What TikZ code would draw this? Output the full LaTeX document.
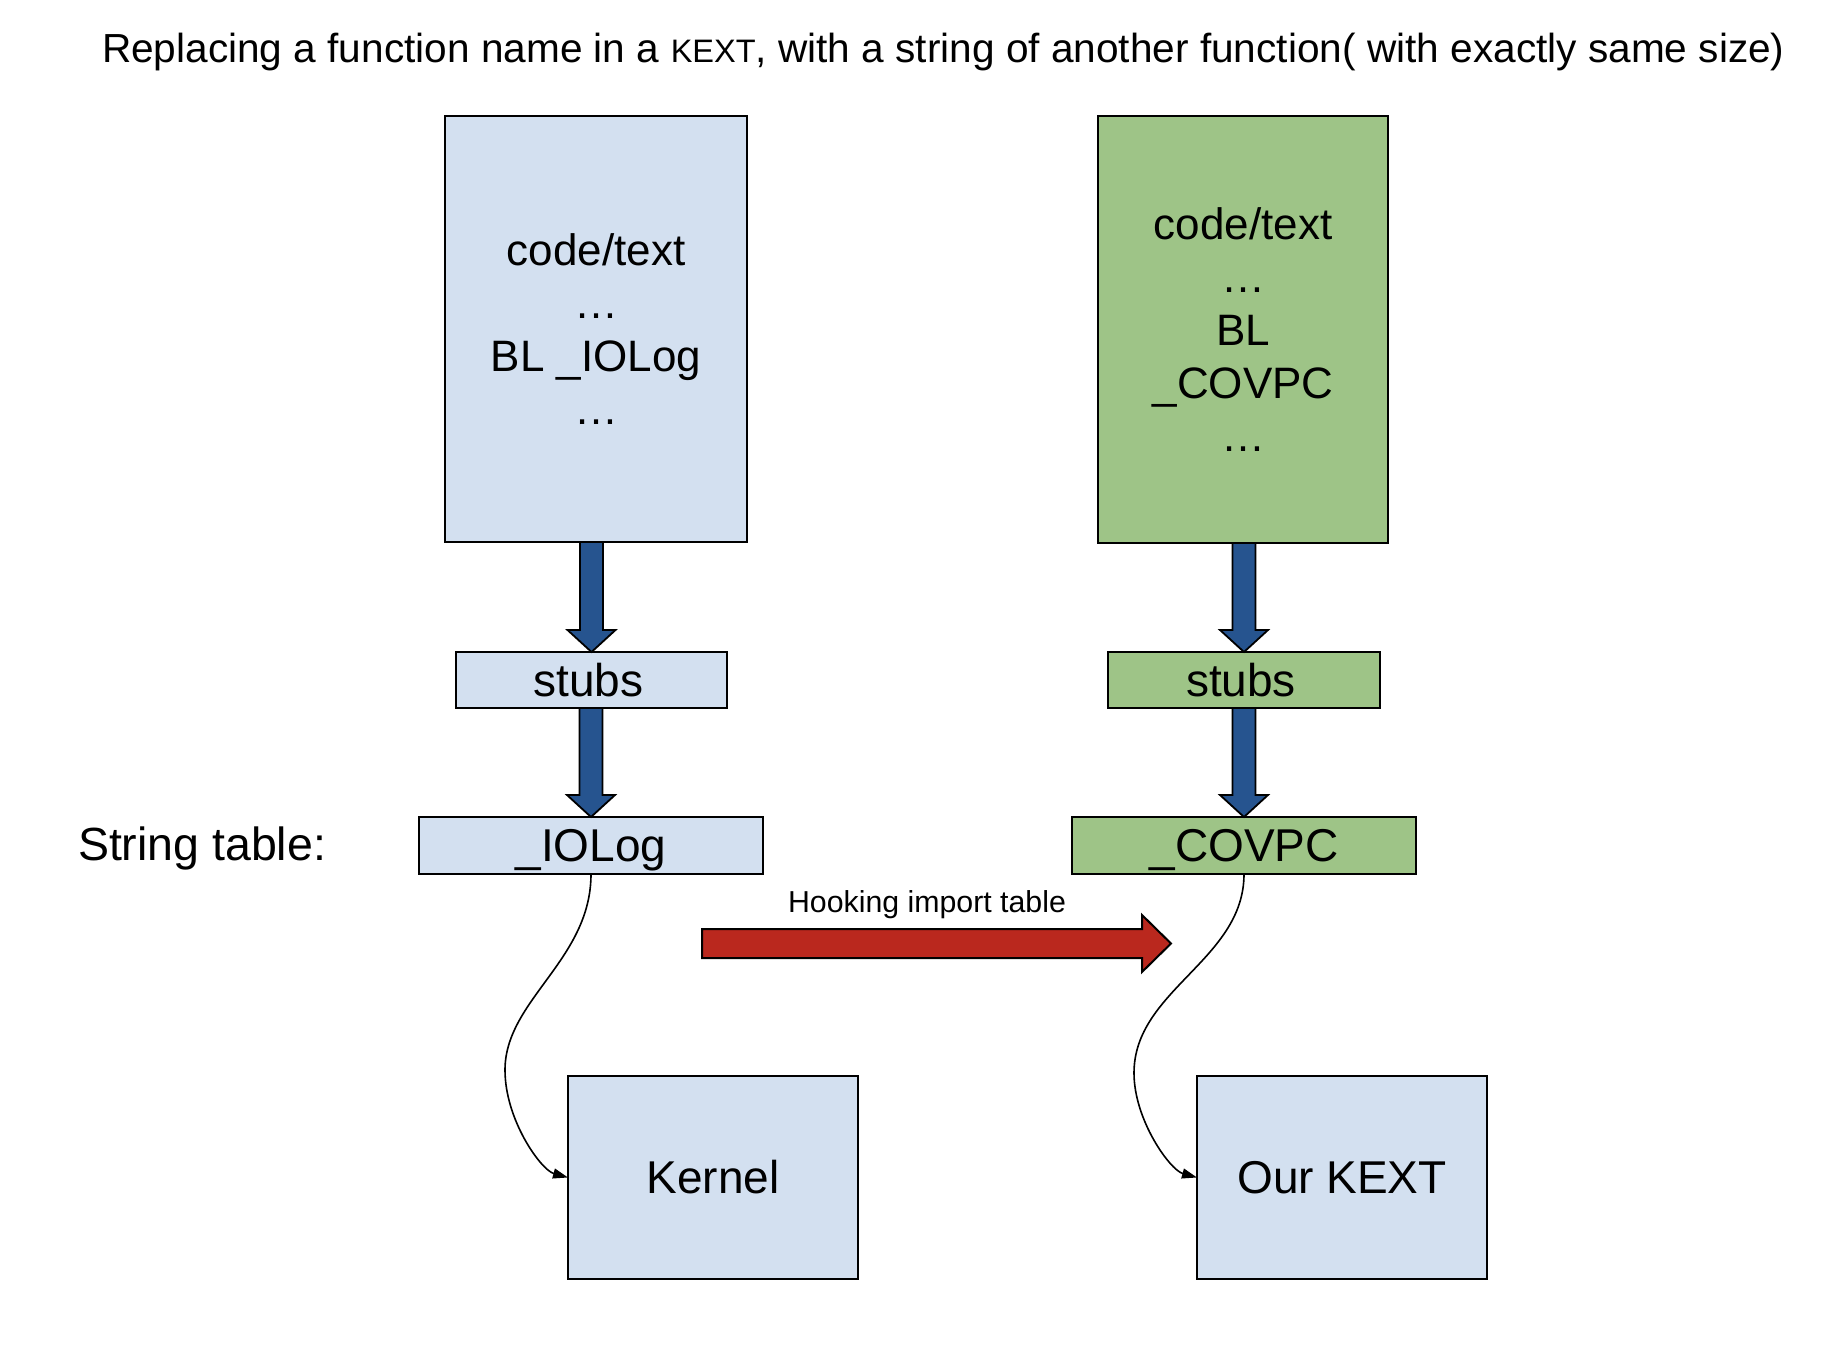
\documentclass[tikz,border=0pt]{standalone}
\usepackage{fontspec}
\setmainfont{Liberation Sans}
\usetikzlibrary{calc,arrows.meta}
\definecolor{boxblue}{HTML}{D3E0F0}
\definecolor{boxgreen}{HTML}{9EC487}
\definecolor{arrowblue}{HTML}{26548F}
\definecolor{arrowred}{HTML}{BA281E}
\newcommand\fatdown[2]{%
  \coordinate (fdtop) at (#1.south -| #2.north);
  \path[fatarrow] ($(fdtop)+(-11.5,0)$) -- ($(#2.north)+(-11.5,-22)$) -- ($(#2.north)+(-24,-22)$)
    -- (#2.north) -- ($(#2.north)+(24,-22)$) -- ($(#2.north)+(11.5,-22)$) -- ($(fdtop)+(11.5,0)$) -- cycle;
}
\begin{document}
\begin{tikzpicture}[x=1pt,y=-1pt,
  every node/.style={inner sep=0pt, outer sep=0pt},
  lbox/.style={draw=black, line width=2pt, fill=boxblue},
  gbox/.style={draw=black, line width=2pt, fill=boxgreen},
  bigtext/.style={align=center, font=\fontsize{44}{53}\selectfont},
  midtext/.style={font=\fontsize{46}{55}\selectfont},
  fatarrow/.style={draw=black, line width=1.8pt, fill=arrowblue, line join=miter},
  redarrow/.style={draw=black, line width=2pt, fill=arrowred, line join=miter},
  link/.style={draw=black, line width=1.6pt, -{Triangle[length=15pt,width=10pt]}},
]
\useasboundingbox (0,0) rectangle (1842,1356);
\fill[white] (0,0) rectangle (1842,1356);

% title
\node[anchor=base west, font=\fontsize{40.6}{48}\selectfont] (title) at (102,63)
  {Replacing a function name in a {\fontsize{32.5}{38}\selectfont KEXT}, with a string of another function( with exactly same size)};

% left column
\node[lbox, bigtext, minimum width=302pt, minimum height=426pt] (codeL) at (596,329)
  {code/text\\…\\BL \_IOLog\\…};
\node[lbox, midtext, minimum width=271pt, minimum height=56pt] (stubL) at (591.5,680) {\hspace*{-6pt}stubs};
\node[lbox, midtext, minimum width=344pt, minimum height=57pt, text depth=0pt] (strL) at (591,845.5) {\_IOLog};
\node[lbox, midtext, minimum width=290pt, minimum height=203pt] (kern) at (713,1177.5) {Kernel};

% right column
\node[gbox, bigtext, minimum width=290pt, minimum height=427pt] (codeR) at (1243,329.5)
  {code/text\\…\\BL\\\_COVPC\\…};
\node[gbox, midtext, minimum width=272pt, minimum height=56pt] (stubR) at (1244,680) {\hspace*{-6pt}stubs};
\node[gbox, midtext, minimum width=344pt, minimum height=57pt, text depth=0pt] (strR) at (1244,845.5) {\_COVPC};
\node[lbox, midtext, minimum width=290pt, minimum height=203pt] (kext) at (1342,1177.5) {Our KEXT};

% label
\node[anchor=base west, font=\fontsize{46.5}{55}\selectfont] (strtab) at (78,860) {String table:};

% fat blue arrows
\fatdown{codeL}{stubL}
\fatdown{stubL}{strL}
\fatdown{codeR}{stubR}
\fatdown{stubR}{strR}

% red hooking arrow
\path[redarrow] (702,929) -- (1142,929) -- (1142,915) -- (1171,943.5) -- (1142,972) -- (1142,958) -- (702,958) -- cycle;
\node[anchor=base, font=\fontsize{30.3}{36}\selectfont] (hook) at (927,912) {Hooking import table};

% curved links
\draw[link] (strL.south) .. controls (591,960) and (505,1000) .. (505,1070)
  .. controls (505,1120) and (541,1170) .. (kern.west);
\draw[link] (strR.south) .. controls (1244,960) and (1134,990) .. (1134,1073)
  .. controls (1134,1120) and (1170,1170) .. (kext.west);
\end{tikzpicture}
\end{document}
